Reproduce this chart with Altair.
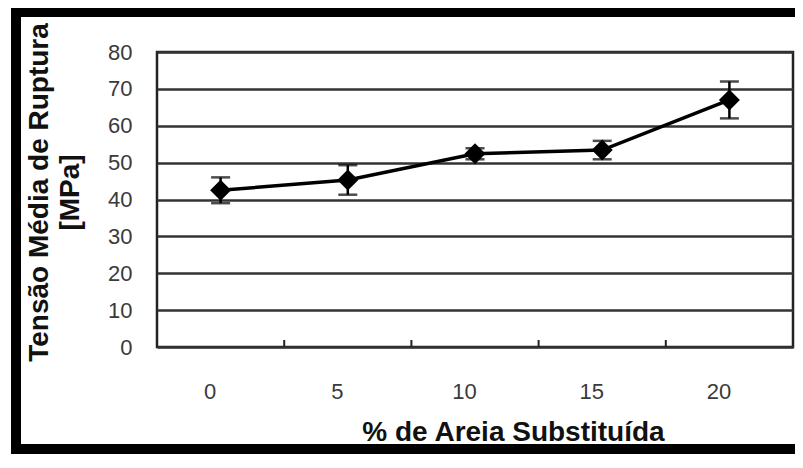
import altair as alt
import pandas as pd

# ---- data ----
pct = [0, 5, 10, 15, 20]                 # % de areia substituída
tensao = [42.5, 45.3, 52.4, 53.4, 67.0]  # tensão média de ruptura (MPa)
erro = [3.5, 4.0, 1.5, 2.5, 5.0]         # half-length of error bars
y_ticks = [0, 10, 20, 30, 40, 50, 60, 70, 80]

df = pd.DataFrame({
    "pct": pct,
    "t": tensao,
    "lo": [m - e for m, e in zip(tensao, erro)],
    "hi": [m + e for m, e in zip(tensao, erro)],
})
step = pct[1] - pct[0]
bounds = pd.DataFrame({"pct": [(a + b) / 2 for a, b in zip(pct[:-1], pct[1:])]})
xdom = [pct[0] - step / 2, pct[-1] + step / 2]

W, H = 636, 295
PAD = {"left": 149, "top": 44, "right": 2, "bottom": 107}
FONT = "Liberation Sans"

xscale = alt.Scale(domain=xdom, nice=False, zero=False)
yscale = alt.Scale(domain=[0, 80], nice=False)

x_axis = alt.Axis(
    values=pct, format="d", grid=False, ticks=False, tickSize=0, domain=False,
    labelFontSize=22, labelColor="#3a3a3a", labelPadding=34, labelOffset=-11,
    labelFont=FONT,
    title="% de Areia Substituída", titleFont=FONT, titleFontSize=28,
    titleFontWeight="bold", titleColor="#111", titleX=356, titleY=93,
    titleAlign="center", titleBaseline="alphabetic",
)
y_axis = alt.Axis(
    values=y_ticks, grid=True, gridColor="#333", gridWidth=2.5,
    ticks=False, tickSize=0, domain=False,
    labelFontSize=22, labelColor="#3a3a3a", labelPadding=25, labelFont=FONT,
    title=["Tensão Média de Ruptura", "[MPa]"], titleFont=FONT,
    titleFontSize=28, titleFontWeight="bold", titleColor="#111",
    titleAngle=270, titleX=-110, titleY=140, titleAlign="center",
    titleBaseline="alphabetic", titleLineHeight=31,
)

X = alt.X("pct:Q", scale=xscale, axis=x_axis, title="% de Areia Substituída")
YT = ["Tensão Média de Ruptura", "[MPa]"]

base = alt.Chart(df)

line = base.mark_line(color="black", strokeWidth=3.5).encode(
    x=X, y=alt.Y("t:Q", scale=yscale, axis=y_axis, title=YT),
)

err = base.mark_rule(color="black", strokeWidth=2.5).encode(
    x=X, y=alt.Y("lo:Q", scale=yscale, axis=y_axis, title=YT), y2="hi:Q",
)

cap_lo = base.mark_tick(color="black", orient="horizontal", size=19, thickness=2.5).encode(
    x=X, y=alt.Y("lo:Q", scale=yscale, axis=y_axis, title=YT),
)
cap_hi = base.mark_tick(color="black", orient="horizontal", size=19, thickness=2.5).encode(
    x=X, y=alt.Y("hi:Q", scale=yscale, axis=y_axis, title=YT),
)

pts = base.mark_point(shape="diamond", filled=True, size=440, color="black", opacity=1).encode(
    x=X, y=alt.Y("t:Q", scale=yscale, axis=y_axis, title=YT),
)

inner_ticks = alt.Chart(bounds).mark_rule(color="#222", strokeWidth=2).encode(
    x=X, y=alt.value(H), y2=alt.value(H - 7),
)

one = pd.DataFrame({"k": [0]})
frame_left = alt.Chart(one).mark_rule(color="black", strokeWidth=10).encode(
    x=alt.value(-141), y=alt.value(-PAD["top"]), y2=alt.value(H + PAD["bottom"]),
)
frame_top = alt.Chart(one).mark_rule(color="black", strokeWidth=10).encode(
    x=alt.value(-146), x2=alt.value(W + PAD["right"]), y=alt.value(-40),
)
frame_bottom = alt.Chart(one).mark_rule(color="black", strokeWidth=10).encode(
    x=alt.value(-146), x2=alt.value(W + PAD["right"]), y=alt.value(397),
)

chart = alt.layer(
    line, err, cap_lo, cap_hi, pts, inner_ticks, frame_left, frame_top, frame_bottom
).properties(
    width=W, height=H,
    padding=PAD,
    autosize=alt.AutoSizeParams(type="none"),
    background="white",
).configure(font=FONT).configure_view(stroke="#222", strokeWidth=2.5)

chart.save("out.html", embed_options={"renderer": "svg", "actions": False})
